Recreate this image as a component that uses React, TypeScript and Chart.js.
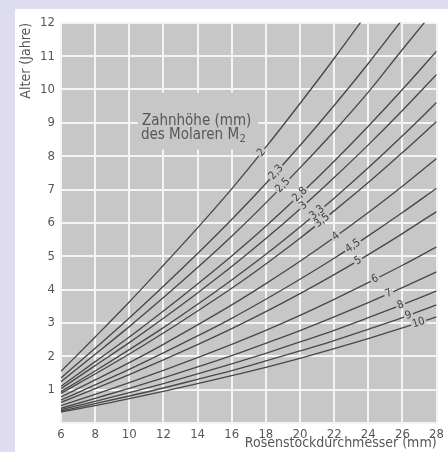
import React, { useEffect, useRef } from "react";
import { Chart, registerables } from "chart.js";

Chart.register(...registerables);

// Rosenstockdurchmesser (mm)
const diameters = [6, 8, 10, 12, 14, 16, 18, 20, 22, 24, 26, 28];

// Zahnhöhe (mm) labels
const toothLabels = ["2", "2,3", "2,5", "2,8", "3", "3,3", "3,5", "4", "4,5", "5", "6", "7", "8", "9", "10"];

// Alter (Jahre) per curve, aligned with diameters
const age_h2 = [1.55, 2.58, 3.63, 4.73, 5.85, 7.02, 8.27, 9.58, 10.93, 12.33];
const age_h2_3 = [1.35, 2.24, 3.15, 4.1, 5.08, 6.1, 7.18, 8.32, 9.52, 10.78, 12.1];
const age_h2_5 = [1.24, 2.06, 2.89, 3.76, 4.66, 5.6, 6.6, 7.65, 8.75, 9.92, 11.2, 12.45];
const age_h2_8 = [1.1, 1.84, 2.58, 3.36, 4.17, 5.01, 5.9, 6.85, 7.85, 8.9, 10.0, 11.15];
const age_h3 = [1.03, 1.72, 2.41, 3.14, 3.9, 4.69, 5.53, 6.42, 7.36, 8.34, 9.37, 10.45];
const age_h3_3 = [0.94, 1.56, 2.2, 2.86, 3.56, 4.29, 5.06, 5.88, 6.74, 7.65, 8.61, 9.61];
const age_h3_5 = [0.89, 1.47, 2.07, 2.7, 3.36, 4.04, 4.77, 5.54, 6.36, 7.21, 8.11, 9.04];
const age_h4 = [0.78, 1.29, 1.81, 2.36, 2.94, 3.54, 4.18, 4.85, 5.56, 6.31, 7.1, 7.93];
const age_h4_5 = [0.69, 1.14, 1.61, 2.1, 2.61, 3.14, 3.71, 4.31, 4.94, 5.61, 6.31, 7.04];
const age_h5 = [0.62, 1.03, 1.45, 1.89, 2.35, 2.83, 3.34, 3.88, 4.45, 5.05, 5.68, 6.34];
const age_h6 = [0.52, 0.86, 1.21, 1.58, 1.96, 2.36, 2.78, 3.23, 3.71, 4.21, 4.73, 5.28];
const age_h7 = [0.44, 0.74, 1.04, 1.35, 1.68, 2.02, 2.39, 2.77, 3.18, 3.61, 4.06, 4.53];
const age_h8 = [0.4, 0.65, 0.91, 1.18, 1.47, 1.77, 2.09, 2.43, 2.78, 3.16, 3.55, 3.96];
const age_h9 = [0.36, 0.58, 0.81, 1.05, 1.31, 1.57, 1.86, 2.16, 2.47, 2.81, 3.16, 3.54];
const age_h10 = [0.33, 0.52, 0.73, 0.95, 1.18, 1.42, 1.67, 1.94, 2.23, 2.53, 2.85, 3.18];

const allSeries = [
  age_h2, age_h2_3, age_h2_5, age_h2_8, age_h3, age_h3_3, age_h3_5, age_h4,
  age_h4_5, age_h5, age_h6, age_h7, age_h8, age_h9, age_h10,
];

// diameter at which each curve's label sits
const labelDiameters = [17.75, 18.6, 19.0, 20.0, 20.2, 21.0, 21.3, 22.1, 23.1, 23.4, 24.4, 25.2, 25.9, 26.35, 26.95];

const xTickValues = [6, 8, 10, 12, 14, 16, 18, 20, 22, 24, 26, 28];
const yTickValues = [1, 2, 3, 4, 5, 6, 7, 8, 9, 10, 11, 12];

const FONT = "'DejaVu Sans Condensed', 'DejaVu Sans', sans-serif";
const PLOT_BG = "#c7c7c7";
const GRID = "#f4f4f4";
const LINE = "#484848";
const TEXT = "#575757";

function interp(xs: number[], ys: number[], x: number): number {
  for (let i = 0; i < ys.length - 1; i++) {
    if (x >= xs[i] && x <= xs[i + 1]) {
      const t = (x - xs[i]) / (xs[i + 1] - xs[i]);
      return ys[i] + t * (ys[i + 1] - ys[i]);
    }
  }
  return ys[ys.length - 1];
}

const plotBgPlugin = {
  id: "plotBg",
  beforeDraw(chart: any) {
    const { ctx, chartArea } = chart;
    ctx.save();
    ctx.fillStyle = PLOT_BG;
    ctx.fillRect(chartArea.left, chartArea.top, chartArea.right - chartArea.left, chartArea.bottom - chartArea.top);
    ctx.restore();
  },
  beforeDatasetsDraw(chart: any) {
    const { ctx } = chart;
    const xs = chart.scales.x;
    const ys = chart.scales.y;
    const x0 = xs.getPixelForValue(10.5);
    const x1 = xs.getPixelForValue(17.55);
    const y0 = ys.getPixelForValue(9.9);
    const y1 = ys.getPixelForValue(8.2);
    ctx.save();
    ctx.fillStyle = PLOT_BG;
    ctx.fillRect(x0, y0, x1 - x0, y1 - y0);
    ctx.fillStyle = TEXT;
    ctx.font = `15px ${FONT}`;
    ctx.textBaseline = "middle";
    ctx.textAlign = "left";
    const tx = xs.getPixelForValue(10.74);
    ctx.fillText("Zahnhöhe (mm)", tx, ys.getPixelForValue(9.06));
    const l2y = ys.getPixelForValue(8.64);
    const base = "des Molaren M";
    ctx.fillText(base, tx - 1, l2y);
    const w = ctx.measureText(base).width;
    ctx.font = `11px ${FONT}`;
    ctx.fillText("2", tx - 1 + w + 0.5, l2y + 4);
    ctx.restore();
  },
  afterDatasetsDraw(chart: any) {
    const { ctx } = chart;
    const xs = chart.scales.x;
    const ys = chart.scales.y;
    ctx.save();
    ctx.font = `11px ${FONT}`;
    ctx.textAlign = "center";
    ctx.textBaseline = "middle";
    allSeries.forEach((s, i) => {
      const lx = labelDiameters[i];
      const ly = interp(diameters, s, lx);
      const ly2 = interp(diameters, s, lx + 0.3);
      const px = xs.getPixelForValue(lx);
      const py = ys.getPixelForValue(ly);
      const px2 = xs.getPixelForValue(lx + 0.3);
      const py2 = ys.getPixelForValue(ly2);
      const ang = Math.atan2(py2 - py, px2 - px);
      const text = toothLabels[i];
      const w = ctx.measureText(text).width;
      ctx.save();
      ctx.translate(px, py);
      ctx.rotate(ang);
      ctx.fillStyle = PLOT_BG;
      ctx.fillRect(-w / 2 - 1.5, -3, w + 3, 6);
      ctx.fillStyle = "#404040";
      ctx.fillText(text, 0, 0);
      ctx.restore();
    });
    ctx.restore();
  },
};

export default function App() {
  const ref = useRef<HTMLCanvasElement>(null);

  useEffect(() => {
    if (!ref.current) return;
    const chart = new Chart(ref.current, {
      type: "line",
      data: {
        datasets: allSeries.map((s, i) => ({
          label: toothLabels[i],
          data: s.map((v, j) => ({ x: diameters[j], y: v })),
          borderColor: LINE,
          borderWidth: 1.35,
          pointRadius: 0,
          fill: false,
          cubicInterpolationMode: "monotone" as const,
        })),
      },
      options: {
        responsive: false,
        animation: false,
        layout: { padding: { top: 10, right: 11, left: 0, bottom: 0 } },
        plugins: { legend: { display: false }, tooltip: { enabled: false } },
        scales: {
          x: {
            type: "linear",
            min: 6,
            max: 28,
            afterBuildTicks: (scale: any) => {
              scale.ticks = xTickValues.map((v) => ({ value: v }));
            },
            ticks: {
              color: TEXT,
              font: { family: FONT, size: 13 },
              padding: 4,
              maxRotation: 0,
              autoSkip: false,
            },
            grid: { color: GRID, lineWidth: 2, drawTicks: false },
            border: { display: false },
            title: {
              display: true,
              text: "Rosenstockdurchmesser (mm)",
              align: "end",
              color: TEXT,
              font: { family: FONT, size: 14 },
              padding: { top: 0, bottom: 0 },
            },
            afterFit: (scale: any) => {
              scale.height = 29;
            },
          },
          y: {
            type: "linear",
            min: 0,
            max: 12,
            afterBuildTicks: (scale: any) => {
              scale.ticks = [0, ...yTickValues].map((v) => ({ value: v }));
            },
            ticks: {
              color: TEXT,
              font: { family: FONT, size: 13 },
              padding: 6,
              callback: (v: any) => (v === 0 ? "" : String(v)),
            },
            grid: { color: GRID, lineWidth: 2, drawTicks: false },
            border: { display: false },
            title: {
              display: true,
              text: "Alter (Jahre)",
              align: "end",
              color: TEXT,
              font: { family: FONT, size: 14 },
              padding: { top: 3, bottom: 0 },
            },
            afterFit: (scale: any) => {
              scale.width = 46;
            },
          },
        },
      },
      plugins: [plotBgPlugin],
    });
    return () => chart.destroy();
  }, []);

  return (
    <div style={{ position: "fixed", left: 0, top: 0, width: 448, height: 452, background: "#dedcf0" }}>
      <div style={{ position: "absolute", left: 15, top: 9, width: 433, height: 443, background: "#ffffff" }}>
        <canvas ref={ref} width={433} height={443} style={{ display: "block" }} />
      </div>
    </div>
  );
}
